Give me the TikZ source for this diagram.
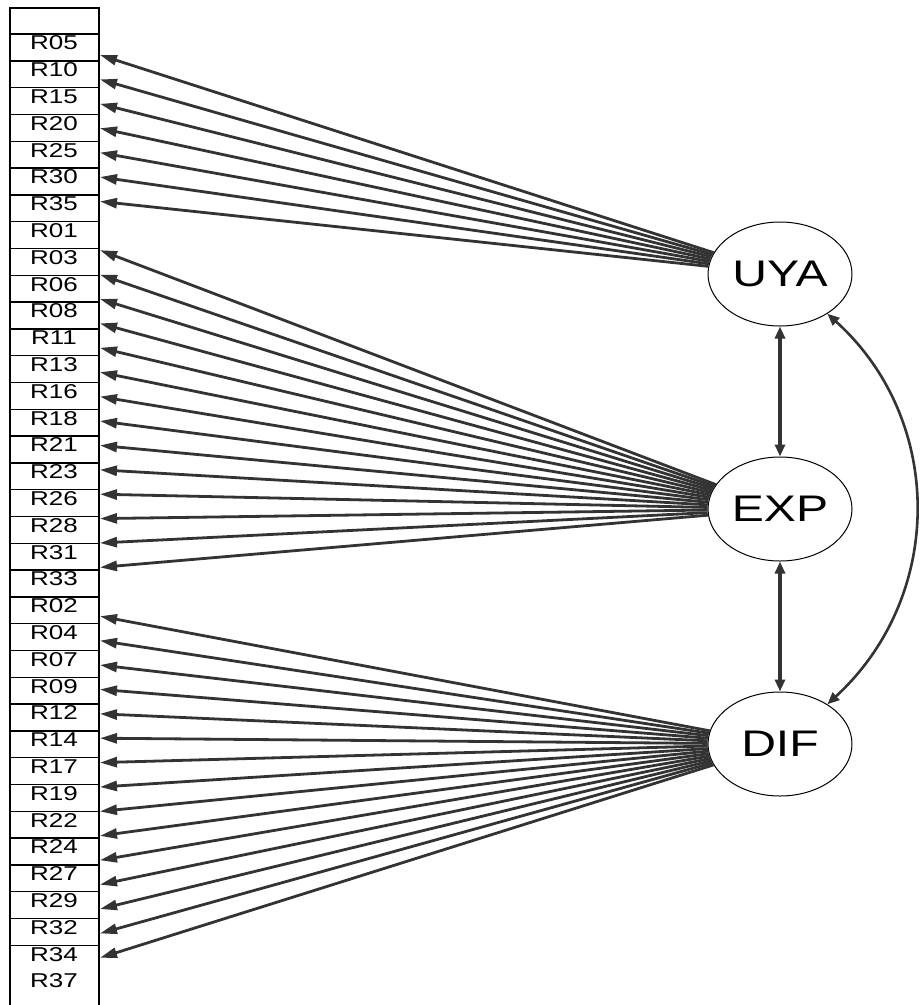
\documentclass[tikz,border=0pt]{standalone}
\usepackage{fontspec}
\setmainfont{Liberation Sans}
\newfontfamily\widefont[FakeStretch=1.3]{Liberation Sans}
\usetikzlibrary{arrows.meta,positioning,shapes.geometric}
\definecolor{inkgray}{HTML}{333333}

\begin{document}
\begin{tikzpicture}[x=1pt, y=-1pt,
    every node/.style={inner sep=0pt},
    itemlab/.style={font=\widefont\fontsize{20}{20}\selectfont},
    latent/.style={ellipse, draw=black, line width=1pt,
        minimum width=144pt, minimum height=104pt,
        font=\widefont\fontsize{37}{37}\selectfont},
    load/.style={inkgray, line width=2.8pt, -{Triangle[length=17pt,width=10pt]}},
    covar/.style={inkgray, line width=3.2pt,
        {Triangle[length=12pt,width=10pt]}-{Triangle[length=12pt,width=10pt]}},
]
\useasboundingbox (0,0) rectangle (921,1005);

% Item column
\draw[line width=1.4pt] (10,1012) -- (10,8) -- (99,8) -- (99,1012);
\foreach \k in {0,...,34}
    \draw[line width=1.4pt] (10,{34+26.8*\k}) -- (99,{34+26.8*\k});
\foreach \lab [count=\i from 0] in {R05,R10,R15,R20,R25,R30,R35,R01,R03,R06,R08,
        R11,R13,R16,R18,R21,R23,R26,R28,R31,R33,R02,R04,R07,R09,R12,R14,R17,
        R19,R22,R24,R27,R29,R32,R34,R37}
    \node[itemlab] (\lab) at (54,{43+26.8*\i}) {\lab};

% Latent variables
\node[latent] (UYA) at (780,274) {UYA};
\node[latent, below=130pt of UYA] (EXP) {EXP};
\node[latent, below=130pt of EXP] (DIF) {DIF};

% Loadings
\foreach \lat/\first/\last in {UYA/0/6, EXP/8/21, DIF/23/37}
    \foreach \k in {\first,...,\last} {
        \coordinate (tip\k) at (100,{55+24.4*\k});
        \draw[load] (\lat) -- (tip\k);
    }

% Covariances
\draw[covar] (UYA) -- (EXP);
\draw[covar] (EXP) -- (DIF);
\draw[covar, line width=2.6pt] (UYA.-40) .. controls (945,420) and (945,596) .. (DIF.40);

\end{tikzpicture}
\end{document}
